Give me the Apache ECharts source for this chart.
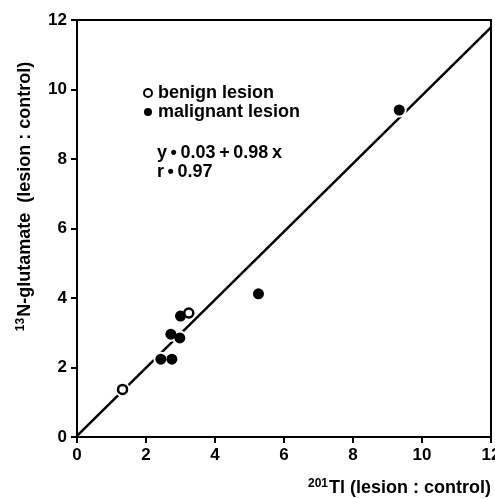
<!DOCTYPE html>
<html>
<head>
<meta charset="utf-8">
<script src="https://cdn.jsdelivr.net/npm/echarts@6/dist/echarts.min.js"></script>
<style>html,body{margin:0;padding:0;background:#fff}#c{width:495px;height:499px}</style>
</head>
<body>
<div id="c"></div>
<script>
const benign = [[1.32, 1.37], [3.24, 3.57]];
const malignant = [[3.0, 3.48], [2.72, 2.96], [2.98, 2.85], [2.43, 2.24], [2.75, 2.24], [5.26, 4.12], [9.34, 9.41]];
const fitIntercept = 0.03, fitSlope = 0.98;
const fitX = [0, 12];
const xTicks = [0, 2, 4, 6, 8, 10, 12];
const yTicks = [0, 2, 4, 6, 8, 10, 12];
const fitLine = fitX.map(x => [x, fitIntercept + fitSlope * x]);

const FONT = '"Liberation Sans", Arial, sans-serif';
const chart = echarts.init(document.getElementById('c'));
const axisCommon = {
  min: 0, max: 12, interval: 2,
  axisLine: {show: true, lineStyle: {color: '#000', width: 2}},
  axisTick: {show: true, length: 6, lineStyle: {color: '#000', width: 2}},
  splitLine: {show: false},
  axisLabel: {color: '#000', fontFamily: FONT, fontWeight: 'bold', fontSize: 17}
};
chart.setOption({
  animation: false,
  grid: {left: 77, right: 4, top: 20, bottom: 62, show: true, borderColor: '#000', borderWidth: 2, backgroundColor: 'transparent', outerBoundsMode: 'none', containLabel: false},
  xAxis: Object.assign({}, axisCommon, {
    type: 'value',
    axisLabel: Object.assign({}, axisCommon.axisLabel, {margin: 10, formatter: v => xTicks.includes(v) ? String(v) : ''}),
    name: '{sup|201}{m|Tl (lesion : control)}',
    nameLocation: 'end',
    nameGap: 0,
    nameTextStyle: {
      align: 'right', verticalAlign: 'top', padding: [41, 0, 0, 0],
      rich: {
        sup: {fontFamily: FONT, fontWeight: 'bold', fontSize: 12, color: '#000', verticalAlign: 'top', padding: [0, 1, 8, 0]},
        m: {fontFamily: FONT, fontWeight: 'bold', fontSize: 18, color: '#000'}
      }
    }
  }),
  yAxis: Object.assign({}, axisCommon, {
    type: 'value',
    axisLabel: Object.assign({}, axisCommon.axisLabel, {margin: 10, formatter: v => yTicks.includes(v) ? String(v) : ''}),
    name: '{sup|13}{m|N-glutamate  (lesion : control)}',
    nameLocation: 'middle',
    nameGap: 42,
    nameRotate: 90,
    nameTextStyle: {
      padding: [0, 0, 0, 64],
      rich: {
        sup: {fontFamily: FONT, fontWeight: 'bold', fontSize: 12, color: '#000', padding: [0, 1, 8, 0]},
        m: {fontFamily: FONT, fontWeight: 'bold', fontSize: 18, color: '#000'}
      }
    }
  }),
  legend: {
    orient: 'vertical', left: 143, top: 84, padding: 0, itemWidth: 8, itemHeight: 8, itemGap: 1,
    icon: 'circle',
    data: ['benign lesion', 'malignant lesion'],
    textStyle: {fontFamily: FONT, fontWeight: 'bold', fontSize: 18, color: '#000', padding: [0, 0, 0, 1]}
  },
  graphic: [
    {type: 'text', left: 157, top: 144, style: {text: 'y\u2009\u2022\u20090.03\u2009+\u20090.98\u2009x', font: 'bold 18px ' + FONT, fill: '#000'}},
    {type: 'text', left: 157, top: 163, style: {text: 'r\u2009\u2022\u20090.97', font: 'bold 18px ' + FONT, fill: '#000'}}
  ],
  series: [
    {type: 'line', data: fitLine, symbol: 'none', lineStyle: {color: '#000', width: 2.5}, z: 1, silent: true},
    {type: 'scatter', name: 'halo', data: benign.concat(malignant), symbolSize: 15, itemStyle: {color: '#fff', opacity: 1}, z: 2, silent: true},
    {type: 'scatter', name: 'benign lesion', data: benign, symbolSize: 9, itemStyle: {color: '#fff', borderColor: '#000', borderWidth: 2.5, opacity: 1}, z: 4},
    {type: 'scatter', name: 'malignant lesion', data: malignant, symbolSize: 11, itemStyle: {color: '#000', opacity: 1}, z: 3}
  ]
});
</script>
</body>
</html>
